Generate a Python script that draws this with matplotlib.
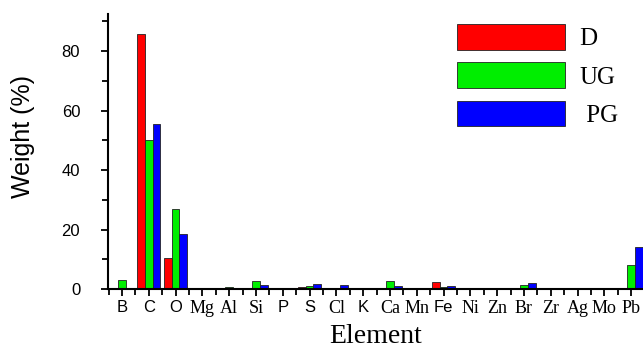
import matplotlib
matplotlib.use("Agg")
import matplotlib.pyplot as plt
import numpy as np
from matplotlib.ticker import MultipleLocator

elements = ["B", "C", "O", "Mg", "Al", "Si", "P", "S", "Cl", "K",
            "Ca", "Mn", "Fe", "Ni", "Zn", "Br", "Zr", "Ag", "Mo", "Pb"]
d_vals = [0, 85.7, 10.4, 0, 0, 0, 0.2, 0.7, 0, 0,
          0, 0, 2.2, 0, 0, 0, 0, 0, 0, 0]
ug_vals = [3.0, 50.1, 26.9, 0, 0.8, 2.7, 0, 1.0, 0.5, 0,
           2.6, 0, 0.7, 0, 0, 1.5, 0, 0, 0, 8.0]
pg_vals = [0, 55.5, 18.5, 0, 0.4, 1.5, 0, 1.8, 1.3, 0,
           1.0, 0, 1.1, 0, 0, 1.9, 0, 0, 0, 14.0]
series = ["D", "UG", " PG"]
colors = ["#ff0000", "#00ee00", "#0000ff"]
sans_labels = {"B", "C", "O", "P", "S", "K", "Fe"}

fig = plt.figure(figsize=(6.43, 3.49), dpi=100)
ax = fig.add_axes([108 / 643, 1 - 289 / 349, 535 / 643, 275 / 349])

x = np.arange(len(elements))
w = 0.29
for i, (vals, lab, col) in enumerate(zip([d_vals, ug_vals, pg_vals], series, colors)):
    ax.bar(x + (i - 1) * w, vals, width=w, color=col, edgecolor="#222222",
           linewidth=0.6, label=lab)

ax.set_xlim(-0.52, 19.44)
ax.set_ylim(0, 92.5)
ax.set_xticks(x)
ax.set_xticklabels(elements)
for t in ax.get_xticklabels():
    if t.get_text() in sans_labels:
        t.set_family("Liberation Sans")
        t.set_fontsize(12)
    else:
        t.set_family("Liberation Serif")
        t.set_fontsize(13)
ax.xaxis.set_minor_locator(MultipleLocator(0.5))
ax.yaxis.set_major_locator(MultipleLocator(20))
ax.yaxis.set_minor_locator(MultipleLocator(10))
ax.tick_params(axis="both", which="major", direction="out", length=5, width=1.3)
ax.tick_params(axis="both", which="minor", direction="out", length=4, width=1.3)
ax.tick_params(axis="y", labelsize=12, pad=15)
for t in ax.get_yticklabels():
    t.set_family("Liberation Sans")
ax.tick_params(axis="x", pad=3)

for s in ["top", "right"]:
    ax.spines[s].set_visible(False)
for s in ["left", "bottom"]:
    ax.spines[s].set_linewidth(1.5)

ax.set_ylabel("Weight (%)", fontsize=18, family="Liberation Sans")
ax.yaxis.set_label_coords(-0.136, 0.556)
ax.set_xlabel("Element", fontsize=20, family="Liberation Serif", labelpad=5)

ax.legend(loc="upper left", bbox_to_anchor=(457 / 643, 1 - 24 / 349),
          bbox_transform=fig.transFigure, frameon=False, borderpad=0,
          borderaxespad=0, handlelength=4.3, handleheight=1.2,
          labelspacing=0.48, handletextpad=0.6,
          prop={"family": "Liberation Serif", "size": 18})

fig.savefig("out.png", dpi=100)
